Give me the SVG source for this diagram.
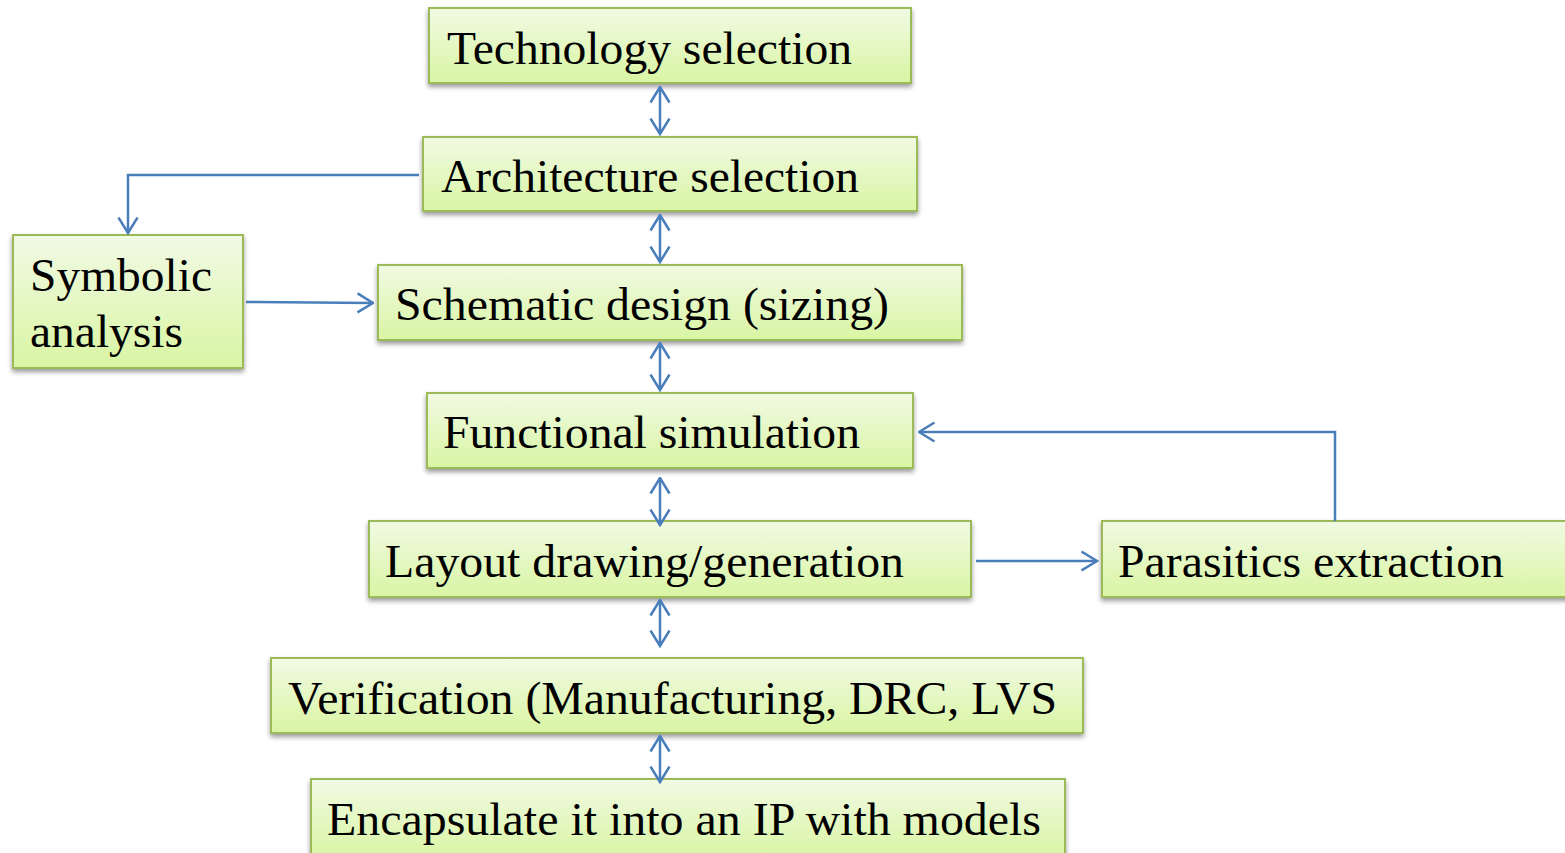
<svg xmlns="http://www.w3.org/2000/svg" width="1565" height="853" viewBox="0 0 1565 853">
  <style>
    .box { fill: url(#boxFill); stroke: #9bbb59; stroke-width: 2; filter: url(#shadow); }
    .label { font-family: "Liberation Serif", "Times New Roman", serif; font-size: 47px; fill: #000; }
    .link { fill: none; stroke: #4a7ebb; stroke-width: 2.5; }
  </style>
  <defs>
    <linearGradient id="boxFill" x1="0" y1="0" x2="0" y2="1">
      <stop offset="0" stop-color="#f1fae4"/>
      <stop offset="1" stop-color="#d9f5a3"/>
    </linearGradient>
    <filter id="shadow" x="-5%" y="-20%" width="110%" height="150%">
      <feDropShadow dx="0" dy="3" stdDeviation="2.5" flood-color="#000" flood-opacity="0.4"/>
    </filter>
    <marker id="head" viewBox="0 0 18 22" refX="16.5" refY="11" markerWidth="18" markerHeight="22" markerUnits="userSpaceOnUse" orient="auto-start-reverse">
      <path d="M1,1.5 L16.5,11 L1,20.5" fill="none" stroke="#4a7ebb" stroke-width="2.5"/>
    </marker>
  </defs>

  <!-- flow steps -->
  <g id="technology">
    <rect class="box" x="429" y="8" width="482" height="75"/>
    <text class="label" x="447" y="64" textLength="405" lengthAdjust="spacingAndGlyphs">Technology selection</text>
  </g>
  <g id="architecture">
    <rect class="box" x="423" y="137" width="494" height="74"/>
    <text class="label" x="441" y="192" textLength="418" lengthAdjust="spacingAndGlyphs">Architecture selection</text>
  </g>
  <g id="symbolic">
    <rect class="box" x="13" y="235" width="230" height="133"/>
    <text class="label" x="30" y="291" textLength="182" lengthAdjust="spacingAndGlyphs">Symbolic</text>
    <text class="label" x="30" y="347" textLength="153" lengthAdjust="spacingAndGlyphs">analysis</text>
  </g>
  <g id="schematic">
    <rect class="box" x="378" y="265" width="584" height="75"/>
    <text class="label" x="395" y="320" textLength="494" lengthAdjust="spacingAndGlyphs">Schematic design (sizing)</text>
  </g>
  <g id="functional">
    <rect class="box" x="427" y="393" width="486" height="75"/>
    <text class="label" x="443" y="448" textLength="417" lengthAdjust="spacingAndGlyphs">Functional simulation</text>
  </g>
  <g id="layout">
    <rect class="box" x="369" y="521" width="602" height="76"/>
    <text class="label" x="385" y="577" textLength="519" lengthAdjust="spacingAndGlyphs">Layout drawing/generation</text>
  </g>
  <g id="parasitics">
    <rect class="box" x="1102" y="521" width="470" height="76"/>
    <text class="label" x="1118" y="577" textLength="386" lengthAdjust="spacingAndGlyphs">Parasitics extraction</text>
  </g>
  <g id="verification">
    <rect class="box" x="271" y="658" width="812" height="75"/>
    <text class="label" x="288" y="714" textLength="769" lengthAdjust="spacingAndGlyphs">Verification (Manufacturing, DRC, LVS</text>
  </g>
  <g id="encapsulate">
    <rect class="box" x="311" y="779" width="754" height="80"/>
    <text class="label" x="327" y="835" textLength="714" lengthAdjust="spacingAndGlyphs">Encapsulate it into an IP with models</text>
  </g>

  <!-- connectors -->
  <g id="connectors">
    <line class="link" x1="660" y1="87" x2="660" y2="134" marker-start="url(#head)" marker-end="url(#head)"/>
    <line class="link" x1="660" y1="215" x2="660" y2="262" marker-start="url(#head)" marker-end="url(#head)"/>
    <line class="link" x1="660" y1="343" x2="660" y2="390" marker-start="url(#head)" marker-end="url(#head)"/>
    <line class="link" x1="660" y1="478" x2="660" y2="525" marker-start="url(#head)" marker-end="url(#head)"/>
    <line class="link" x1="660" y1="600" x2="660" y2="646" marker-start="url(#head)" marker-end="url(#head)"/>
    <line class="link" x1="660" y1="736" x2="660" y2="782" marker-start="url(#head)" marker-end="url(#head)"/>
    <polyline class="link" points="419,175 128,175 128,233" marker-end="url(#head)"/>
    <line class="link" x1="246" y1="302" x2="373" y2="303" marker-end="url(#head)"/>
    <line class="link" x1="976" y1="561" x2="1097" y2="561" marker-end="url(#head)"/>
    <polyline class="link" points="1335,521 1335,432 919,432" marker-end="url(#head)"/>
  </g>
</svg>
